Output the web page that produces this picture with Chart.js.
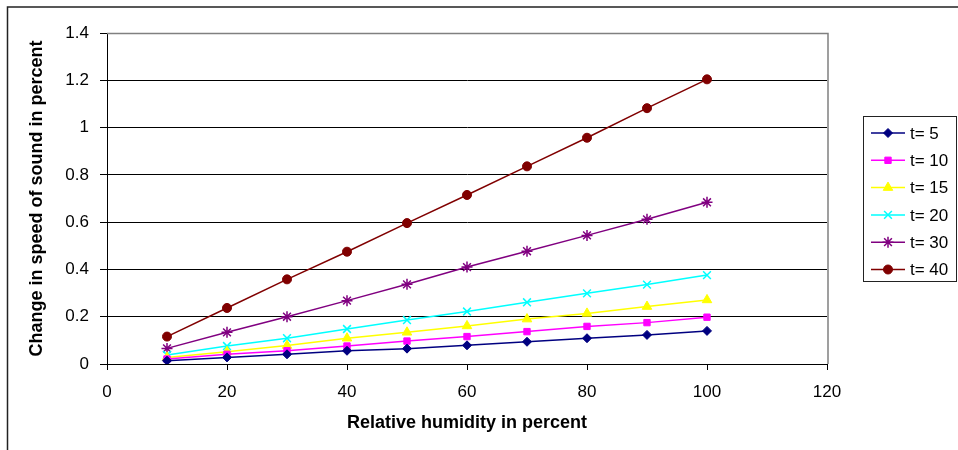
<!DOCTYPE html>
<html><head><meta charset="utf-8">
<script src="https://cdn.jsdelivr.net/npm/chart.js@4"></script>
<style>html,body{margin:0;padding:0;background:#fff}#wrap{width:958px;height:450px}</style>
</head><body><div id="wrap"><canvas id="c" width="958" height="450"></canvas></div>
<script>
const humidity = [10, 20, 30, 40, 50, 60, 70, 80, 90, 100];
const t5  = [0.014, 0.028, 0.041, 0.056, 0.065, 0.079, 0.094, 0.109, 0.123, 0.140];
const t10 = [0.021, 0.041, 0.056, 0.076, 0.097, 0.116, 0.137, 0.159, 0.175, 0.198];
const t15 = [0.028, 0.052, 0.078, 0.109, 0.134, 0.161, 0.190, 0.214, 0.243, 0.271];
const t20 = [0.038, 0.076, 0.109, 0.148, 0.186, 0.222, 0.261, 0.299, 0.336, 0.376];
const t30 = [0.066, 0.134, 0.200, 0.268, 0.337, 0.410, 0.477, 0.544, 0.612, 0.684];
const t40 = [0.116, 0.237, 0.358, 0.475, 0.596, 0.715, 0.836, 0.957, 1.082, 1.204];
const seriesLabels = ['t= 5', 't= 10', 't= 15', 't= 20', 't= 30', 't= 40'];
const seriesValues = [t5, t10, t15, t20, t30, t40];
const xTitle = 'Relative humidity in percent';
const yTitle = 'Change in speed of sound in percent';

const colors = ['#000080', '#FF00FF', '#FFFF00', '#00FFFF', '#800080', '#800000'];
const styles = ['rectRot', 'rect', 'triangle', 'crossRot', 'star', 'circle'];
const radii = [4.5, 4.5, 5.5, 5.5, 5.5, 4.5];
const FONT = "'Liberation Sans', Arial, sans-serif";

const datasets = seriesValues.map((vals, i) => ({
  label: seriesLabels[i],
  data: humidity.map((h, j) => ({x: h, y: vals[j]})),
  borderColor: colors[i],
  backgroundColor: colors[i],
  borderWidth: 1.5,
  pointStyle: styles[i],
  pointRadius: radii[i],
  pointBackgroundColor: colors[i],
  pointBorderColor: colors[i],
  pointBorderWidth: (styles[i] === 'crossRot' || styles[i] === 'star') ? 1.5 : 1,
  tension: 0
}));

const framePlugin = {
  id: 'frame',
  beforeDraw(chart) {
    const ctx = chart.ctx;
    ctx.save();
    ctx.fillStyle = '#fff';
    ctx.fillRect(0, 0, chart.width, chart.height);
    ctx.strokeStyle = '#222';
    ctx.lineWidth = 1.5;
    ctx.beginPath();
    ctx.moveTo(958, 7);
    ctx.lineTo(7.5, 7);
    ctx.lineTo(7.5, 450);
    ctx.stroke();
    ctx.restore();
  },
  afterDraw(chart) {
    const ctx = chart.ctx;
    const a = chart.chartArea;
    ctx.save();
    ctx.strokeStyle = '#808080';
    ctx.lineWidth = 1.5;
    ctx.beginPath();
    ctx.moveTo(a.left, a.top + 0.5);
    ctx.lineTo(a.right + 1, a.top + 0.5);
    ctx.lineTo(a.right + 1, a.bottom);
    ctx.stroke();
    // legend
    const lx = 863, ly = 116, lw = 93, lh = 165;
    ctx.strokeStyle = '#222';
    ctx.lineWidth = 1;
    ctx.strokeRect(lx + 0.5, ly + 0.5, lw, lh);
    ctx.font = '17px ' + FONT;
    ctx.textBaseline = 'middle';
    ctx.textAlign = 'left';
    chart.data.datasets.forEach((ds, i) => {
      const y = 133 + i * 27.3;
      ctx.strokeStyle = ds.borderColor;
      ctx.lineWidth = 1.5;
      ctx.beginPath();
      ctx.moveTo(871, y);
      ctx.lineTo(905, y);
      ctx.stroke();
      ctx.fillStyle = ds.borderColor;
      ctx.strokeStyle = ds.borderColor;
      ctx.lineWidth = ds.pointBorderWidth;
      Chart.helpers.drawPoint(ctx, {pointStyle: ds.pointStyle, rotation: 0, radius: ds.pointRadius, borderWidth: ds.pointBorderWidth}, 888, y);
      ctx.fillStyle = '#000';
      ctx.fillText(ds.label, 910, y + 1);
    });
    ctx.restore();
  }
};

new Chart(document.getElementById('c'), {
  type: 'line',
  data: {datasets},
  plugins: [framePlugin],
  options: {
    responsive: false,
    animation: false,
    devicePixelRatio: 1,
    layout: {padding: {left: 7, right: 131, top: 33, bottom: 6}},
    plugins: {legend: {display: false}, tooltip: {enabled: false}},
    scales: {
      x: {
        type: 'linear', min: 0, max: 120,
        afterFit(s) { s.height = 80; },
        ticks: {stepSize: 20, color: '#000', padding: 12, font: {family: FONT, size: 17}, maxRotation: 0},
        grid: {drawOnChartArea: false, drawTicks: true, tickLength: 6, tickColor: '#000'},
        border: {display: true, color: '#000', width: 1},
        title: {display: true, text: xTitle, color: '#000', font: {family: FONT, size: 18, weight: 'bold'}, padding: {top: 0, bottom: 10}}
      },
      y: {
        type: 'linear', min: 0, max: 1.4,
        afterFit(s) { s.width = 100; },
        ticks: {stepSize: 0.2, color: '#000', padding: 11, font: {family: FONT, size: 17},
          callback: v => String(Number(v.toFixed(2)))},
        grid: {color: '#000', lineWidth: 1, drawTicks: true, tickLength: 7, tickColor: '#000'},
        border: {display: true, color: '#000', width: 1},
        title: {display: true, text: yTitle, color: '#000', font: {family: FONT, size: 18, weight: 'bold'}, padding: {top: 19, bottom: 0}}
      }
    }
  }
});
</script>
</body></html>
